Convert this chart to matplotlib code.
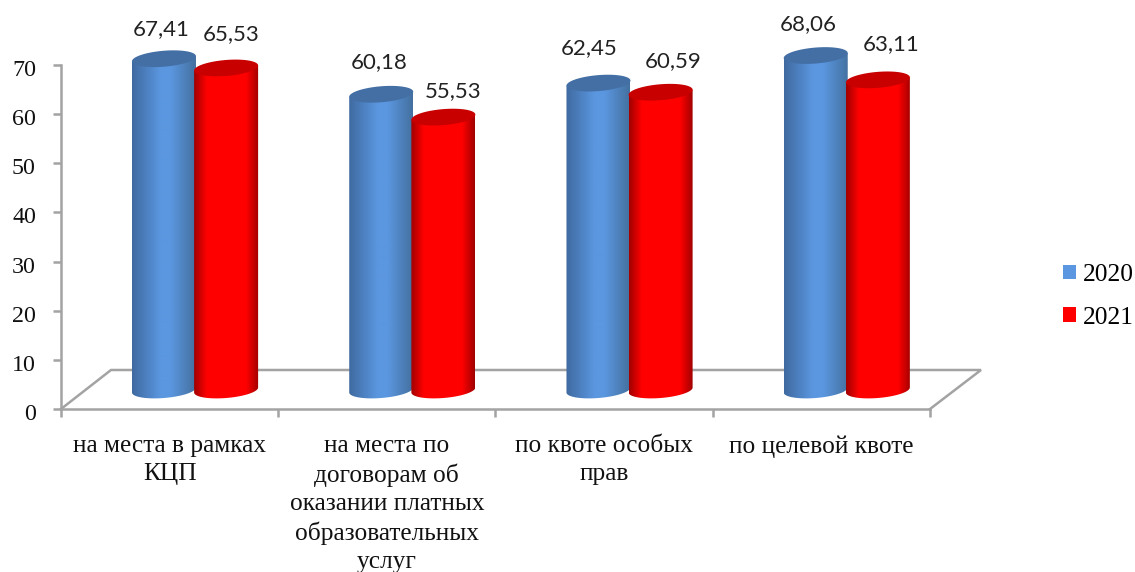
import numpy as np
import matplotlib
matplotlib.use("Agg")
import matplotlib.pyplot as plt
from matplotlib.colors import LinearSegmentedColormap
from matplotlib.patches import Polygon, Patch
from matplotlib.transforms import ScaledTranslation

categories = ["на места в рамках\nКЦП",
              "на места по\nдоговорам об\nоказании платных\nобразовательных\nуслуг",
              "по квоте особых\nправ",
              "по целевой квоте"]
values_2020 = [67.41, 60.18, 62.45, 68.06]
values_2021 = [65.53, 55.53, 60.59, 63.11]
value_text_2020 = ["67,41", "60,18", "62,45", "68,06"]
value_text_2021 = ["65,53", "55,53", "60,59", "63,11"]
series_names = ["2020", "2021"]
y_ticks = [0, 10, 20, 30, 40, 50, 60, 70]

W, H = 1135, 572
X0, X1, Y0, Y1 = 61, 930, 409, 65
PX_X = (X1 - X0) / 4
PX_Y = (Y0 - Y1) / 70
GRAY = "#A3A3A3"
CAL = "Lato"
SERIF = "Liberation Serif"
BLUE = "#5B97E0"
RED = "#FF0000"
LW = 1.8

fig = plt.figure(figsize=(W / 100, H / 100), dpi=100, facecolor="white")
ax = fig.add_axes([X0 / W, (H - Y0) / H, (X1 - X0) / W, (Y0 - Y1) / H])
ax.patch.set_visible(False)
for s in ("top", "right"):
    ax.spines[s].set_visible(False)
for s in ("left", "bottom"):
    ax.spines[s].set_color(GRAY)
    ax.spines[s].set_linewidth(LW)

# floor of the 3D box
fx = [0, 50 / PX_X, 4 + 51 / PX_X, 4]
fy = [0, 39 / PX_Y, 39 / PX_Y, 0]
ax.plot(fx, fy, color=GRAY, lw=LW, clip_on=False, zorder=1, solid_joinstyle="miter")

blue_cmap = LinearSegmentedColormap.from_list(
    "b", [(0, "#3F6AA0"), (0.45, BLUE), (0.6, BLUE), (1, "#44709F")])
red_cmap = LinearSegmentedColormap.from_list(
    "r", [(0, "#A00000"), (0.2, RED), (0.8, RED), (1, "#A00000")])
grad = np.linspace(0, 1, 256).reshape(1, -1)

WIDTH = 64 / PX_X
BASE = 19 / PX_Y
A_Y = 8 / PX_Y
TILT = 2.5 / PX_Y
t = np.linspace(0, 2 * np.pi, 121)


def cylinder(xc, val, cmap, top_col, z):
    hw = WIDTH / 2
    top = BASE + val
    ex = xc + hw * np.cos(t)
    tilt = np.cos(t) * TILT
    etop = top + A_Y * np.sin(t) + tilt
    ebot = BASE + A_Y * np.sin(t) + tilt
    # side outline: bottom half of the base ellipse, then up over the top rim
    lower = (t >= np.pi)
    sx = ex[lower]
    sy = ebot[lower]
    side = np.column_stack([np.r_[sx, xc + hw, xc - hw],
                            np.r_[sy, top + TILT, top - TILT]])
    poly = Polygon(side, closed=True, transform=ax.transData, fc="none", ec="none",
                   clip_on=False)
    ax.add_patch(poly)
    im = ax.imshow(grad, cmap=cmap, aspect="auto", zorder=z,
                   extent=[xc - hw, xc + hw, 0, top + 3], interpolation="bilinear")
    im.set_clip_box(fig.bbox)
    im.set_clip_path(poly)
    ax.fill(ex, etop, color=top_col, lw=0, zorder=z + 0.1, clip_on=False)
    return top


OFF_B = 0.474
OFF_R = 0.76
lab_b = [(-3, 30), (-2, 32), (-9, 35), (-7, 31)]
lab_r = [(5, 34), (10, 26), (13, 31), (13, 36)]
for i in range(4):
    tb = cylinder(i + OFF_B, values_2020[i], blue_cmap, "#436FA5", 3 + i * 2)
    tr = cylinder(i + OFF_R, values_2021[i], red_cmap, "#C80000", 4 + i * 2)
    for xc, v, s, (dx, dy) in ((i + OFF_B, tb, value_text_2020[i], lab_b[i]),
                               (i + OFF_R, tr, value_text_2021[i], lab_r[i])):
        ax.annotate(s, (xc, v), xytext=(dx * 0.72, dy * 0.72),
                    textcoords="offset points", ha="center", va="center",
                    fontsize=16, family=CAL, color="#222222",
                    annotation_clip=False, zorder=20)

ax.set_xlim(0, 4)
ax.set_ylim(0, 70)
ax.set_yticks(y_ticks)
ax.set_yticklabels([str(v) for v in y_ticks], family=SERIF, fontsize=17.3, color="#111111")
ax.set_xticks(range(5))
ax.set_xticklabels([])
ax.set_xticks([i + 0.5 for i in range(4)], minor=True)
ax.set_xticklabels(categories, minor=True, family=SERIF, fontsize=18.3, color="#111111",
                   linespacing=1.345, va="top")
ax.tick_params(axis="x", which="minor", length=0, pad=19)
ax.tick_params(axis="both", which="major", length=5.5, width=LW, color=GRAY)
ax.tick_params(axis="y", pad=11.5)
shift = ScaledTranslation(-1.5 / 100, -3 / 100, fig.dpi_scale_trans)
for lab in ax.get_yticklabels():
    lab.set_transform(lab.get_transform() + shift)

handles = [Patch(fc=BLUE, ec="none"), Patch(fc=RED, ec="none")]
leg = fig.legend(handles, series_names, loc="center left",
                 bbox_to_anchor=(1058 / W, 1 - 296.5 / H), frameon=False,
                 prop={"family": SERIF, "size": 18.4}, handlelength=0.51, handleheight=0.51,
                 handletextpad=0.28, labelspacing=0.81, borderpad=0.2, borderaxespad=0)

fig.savefig("out.png", dpi=100, facecolor="white")
